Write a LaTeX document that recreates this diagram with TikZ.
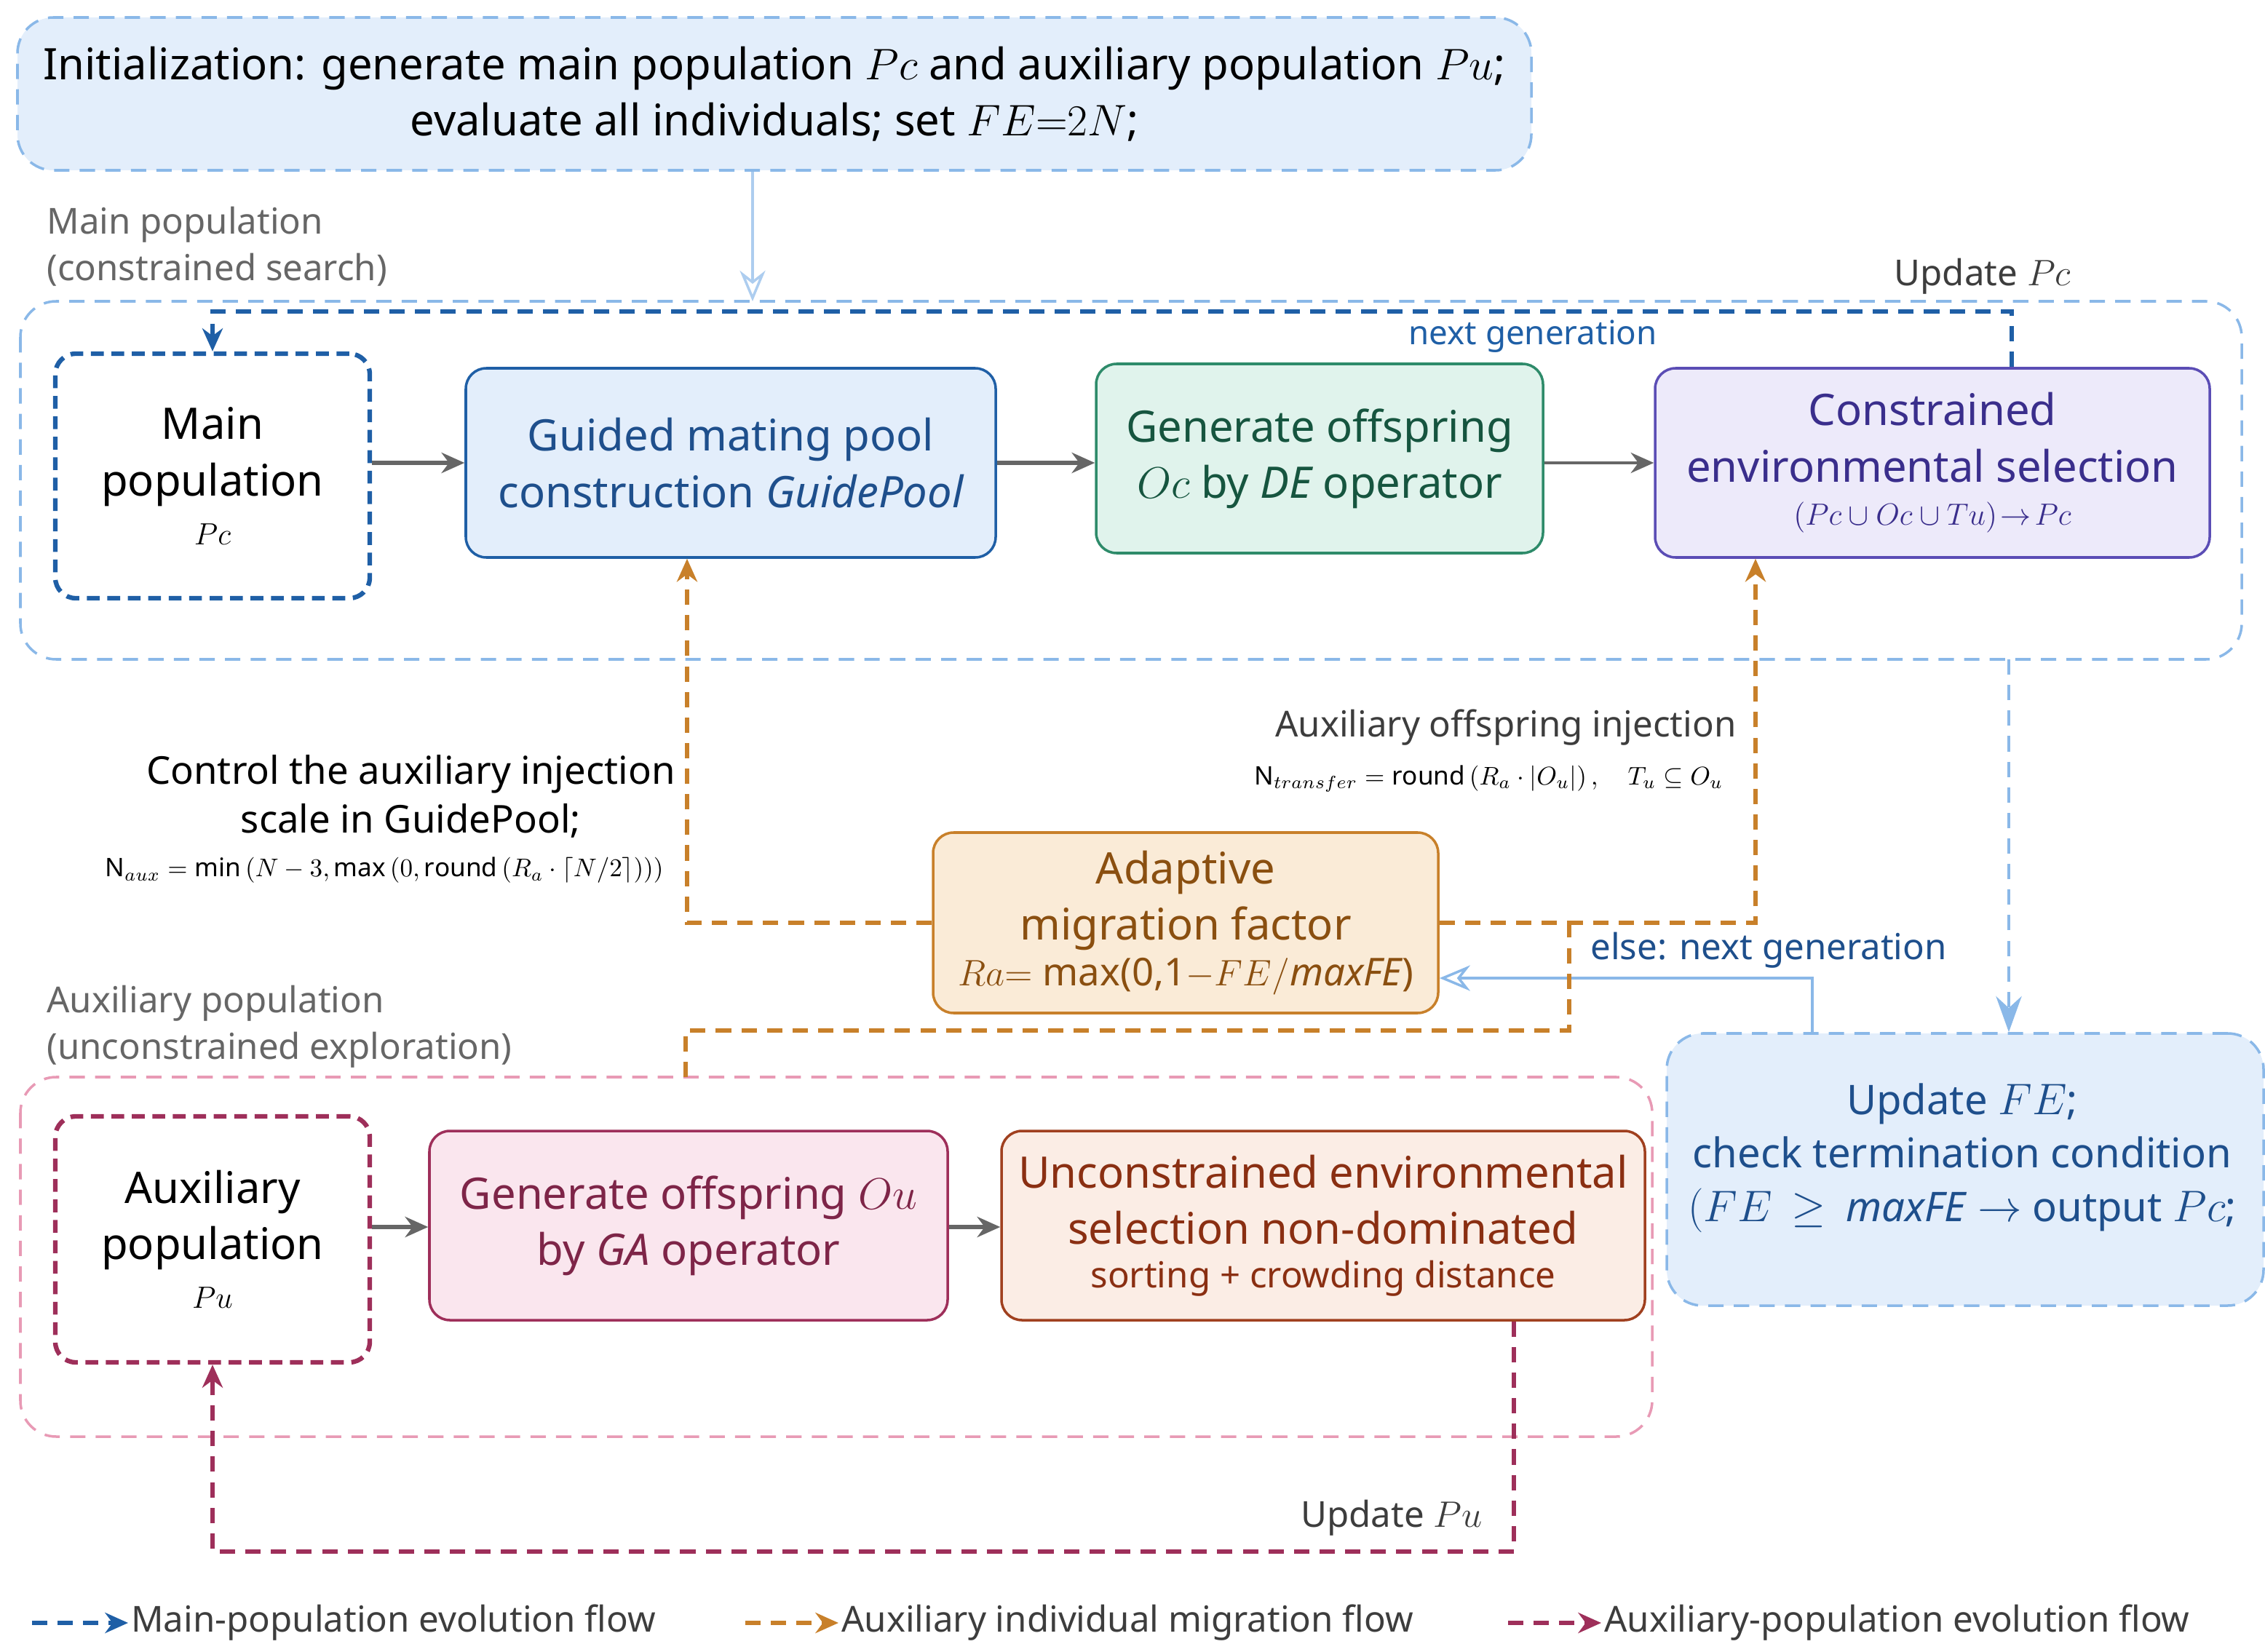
\documentclass[tikz,border=0pt]{standalone}
\usepackage{fontspec}
\setmainfont{Noto Sans}
\usepackage{amsmath}
\usetikzlibrary{positioning}
\usetikzlibrary{arrows.meta}
\definecolor{cBlueFill} {HTML}{E3EEFB}
\definecolor{cBlueLite} {HTML}{8AB8E8}
\definecolor{cBlueDark} {HTML}{1F5FA6}
\definecolor{cBlueText} {HTML}{1E4F8C}
\definecolor{cGreenFill}{HTML}{E0F3EC}
\definecolor{cGreen}    {HTML}{2E8B6A}
\definecolor{cGreenText}{HTML}{16553F}
\definecolor{cPurpFill} {HTML}{EDEAFA}
\definecolor{cPurp}     {HTML}{5B4DB5}
\definecolor{cPurpText} {HTML}{3A2E8C}
\definecolor{cOrgFill}  {HTML}{FAEBD7}
\definecolor{cOrg}      {HTML}{C8802A}
\definecolor{cOrgText}  {HTML}{8A4F10}
\definecolor{cPinkFill} {HTML}{FAE6EE}
\definecolor{cPink}     {HTML}{E89AB5}
\definecolor{cMaroon}   {HTML}{9E2F5A}
\definecolor{cRustFill} {HTML}{FBEDE5}
\definecolor{cRust}     {HTML}{A0401F}
\definecolor{cRustText} {HTML}{8A2F12}
\definecolor{cGray}     {HTML}{666666}

\begin{document}
\begin{tikzpicture}
[x=0.02cm, y=-0.02cm, >={Stealth[length=9pt,width=8pt]},
  box/.style = { draw, rounded corners=8pt, line width=1pt, align=center, inner sep=0pt },
  big/.style = { font=\fontsize{17}{22}\selectfont },
  region/.style = { draw, dashed, rounded corners=14pt, line width=1pt, dash pattern=on 6pt off 4pt },
  flow/.style = { dashed, line width=1.6pt, dash pattern=on 6pt off 4pt },
  stepArrow/.style = { ->, cGray, line width=1.6pt }
]
\useasboundingbox (0,0) rectangle (1556,1135);

% Initialization:
\node[box, region, fill=cBlueFill, draw=cBlueLite, minimum width=1040*0.02cm, minimum height=105*0.02cm, big]
  (init) at (532,64.5) {Initialization: generate main population $Pc$ and auxiliary population $Pu$;\\ evaluate all individuals; set $FE{=}2N$;};

% Regions:
\draw[region, cBlueLite] (14,207) rectangle (1540,453);
\draw[region, cPink]     (14,740) rectangle (1135,987);
\node[cGray, align=left, anchor=north west, font=\fontsize{14}{18}\selectfont] (mainlbl) at (26,136) {Main population\\(constrained search)};
\node[cGray, align=left, anchor=north west, font=\fontsize{14}{18}\selectfont] (auxlbl) at (26,671) {Auxiliary population\\(unconstrained exploration)};
\node[font=\fontsize{14}{18}\selectfont, cGray!60!black] (updpc) at (1362,190) {Update $Pc$};
\draw[->, cBlueLite!70, line width=1pt, >={Stealth[open,length=12pt,width=10pt]}] (init.south -| 517,0) -- (517,207);

% Main population row:
\node[box, dashed, dash pattern=on 5pt off 3pt, line width=1.8pt, draw=cBlueDark, minimum width=216*0.02cm, minimum height=168*0.02cm, big]
  (mainpop) at (146,327) {Main\\population\\[-3pt]{\fontsize{13}{14}\selectfont$Pc$}};
\node[box, fill=cBlueFill, draw=cBlueDark, text=cBlueText, minimum width=364*0.02cm, minimum height=130*0.02cm, big]
  (guide) at (502,318) {Guided mating pool\\construction $\mathit{GuidePool}$};
\node[box, fill=cGreenFill, draw=cGreen, text=cGreenText, minimum width=307*0.02cm, minimum height=130*0.02cm, big]
  (genoc) at (906.5,315) {Generate offspring\\$Oc$ by $\mathit{DE}$ operator};
\node[box, fill=cPurpFill, draw=cPurp, text=cPurpText, minimum width=381*0.02cm, minimum height=130*0.02cm, big]
  (conenv) at (1327.5,318) {Constrained\\environmental selection\\[-5pt]{\fontsize{13}{14}\selectfont$(Pc\cup Oc\cup Tu)\!\rightarrow\! Pc$}};
\draw[stepArrow] (mainpop.east |- 0,318) -- (guide.west);
\draw[stepArrow] (guide.east) -- (genoc.west |- guide.east);
\draw[->, cGray, line width=1pt] (genoc.east |- 0,318) -- (conenv.west);

% Next generation loop:
\draw[flow, cBlueDark, ->] (conenv.north -| 1382,0) -- (1382,214) -- (146,214) -- (mainpop.north);
\node[font=\fontsize{13}{15}\selectfont, cBlueDark] (nextgen) at (1053,231) {next generation};

% Termination:
\node[box, region, fill=cBlueFill, draw=cBlueLite, minimum width=410*0.02cm, minimum height=187*0.02cm] (term) at (1350,803.5) {};
\node[font=\fontsize{16}{21}\selectfont, text=cBlueText, align=center, anchor=north] (termtxt) at (1348,738) {Update $FE$;\\check termination condition\\$(FE\,\geq\,\mathit{maxFE}\rightarrow$ output $Pc$;};
\draw[flow, cBlueLite, ->, line width=1.4pt, >={Stealth[length=14pt,width=10pt]}] (1380,453) -- (term.north -| 1380,0);

% Adaptive migration factor:
\node[box, fill=cOrgFill, draw=cOrg, text=cOrgText, minimum width=347*0.02cm, minimum height=124*0.02cm, big]
  (adapt) at (814.5,634) {Adaptive\\migration factor\\[-4pt]{\fontsize{15}{16}\selectfont$Ra{=}$ max(0,1$-FE/\mathit{maxFE}$)}};
\coordinate (elseup) at (1245,672);
\draw[->, cBlueLite, line width=1pt, >={Stealth[open,length=12pt,width=10pt]}] (term.north -| elseup) -- (elseup) -- (adapt.east |- elseup);
\node[font=\fontsize{14}{18}\selectfont, cBlueText] (elselbl) at (1215,653) {else: next generation};

% Migration flows:
\draw[flow, cOrg, ->] (adapt.west) -- (472,634) -- (guide.south -| 472,0);
\draw[flow, cOrg, ->] (adapt.east) -- (1206,634) -- (conenv.south -| 1206,0);
\draw[flow, cOrg] (471,740) -- (471,708) -- (1078,708) -- (1078,634);
\node[font=\fontsize{15}{19}\selectfont, align=center, anchor=east] (ctrl) at (470,547) {Control the auxiliary injection\\scale in GuidePool;};
\node[font=\fontsize{10}{12}\selectfont, anchor=east] (naux) at (462,598) {$\mathrm{N}_{aux}=\min\left(N-3,\max\left(0,\mathrm{round}\left(R_a\cdot\lceil N/2\rceil\right)\right)\right)$};
\node[font=\fontsize{14}{18}\selectfont, cGray!60!black, anchor=east] (injlbl) at (1199,500) {Auxiliary offspring injection};
\node[font=\fontsize{10}{12}\selectfont, anchor=east] (ntr) at (1190,535) {$\mathrm{N}_{transfer}=\mathrm{round}\left(R_a\cdot|O_u|\right),\quad T_u\subseteq O_u$};

% Auxiliary population row:
\node[box, dashed, dash pattern=on 5pt off 3pt, line width=1.8pt, draw=cMaroon, minimum width=216*0.02cm, minimum height=169*0.02cm, big]
  (auxpop) at (146,851.5) {Auxiliary\\population\\[-3pt]{\fontsize{13}{14}\selectfont$Pu$}};
\node[box, fill=cPinkFill, draw=cMaroon, text=cMaroon!80!black, minimum width=356*0.02cm, minimum height=130*0.02cm, big]
  (genou) at (473,842) {Generate offspring $Ou$\\by $\mathit{GA}$ operator};
\node[box, fill=cRustFill, draw=cRust, text=cRustText, minimum width=442*0.02cm, minimum height=130*0.02cm, big]
  (unenv) at (909,842) {Unconstrained environmental\\selection non-dominated\\[-5pt]{\fontsize{14}{15}\selectfont sorting + crowding distance}};
\draw[stepArrow] (auxpop.east |- 0,843) -- (genou.west |- 0,843);
\draw[stepArrow] (genou.east |- 0,843) -- (unenv.west |- 0,843);

% Update Pu loop:
\draw[flow, cMaroon, ->] (unenv.south -| 1040,0) -- (1040,1066) -- (146,1066) -- (auxpop.south);
\node[font=\fontsize{14}{18}\selectfont, cGray!60!black] (updpu) at (956,1043) {Update $Pu$};

% Legend:
\coordinate (lg1a) at (22,1115);  \coordinate (lg1b) at (88,1115);
\coordinate (lg2a) at (512,1115); \coordinate (lg2b) at (576,1115);
\coordinate (lg3a) at (1036,1115);\coordinate (lg3b) at (1100,1115);
\draw[flow, cBlueDark, ->] (lg1a) -- (lg1b);
\draw[flow, cOrg, ->] (lg2a) -- (lg2b);
\draw[flow, cMaroon, ->] (lg3a) -- (lg3b);
\node[font=\fontsize{14}{18}\selectfont, cGray!60!black, anchor=west, inner sep=1pt] (lg1) at (lg1b) {Main-population evolution flow};
\node[font=\fontsize{14}{18}\selectfont, cGray!60!black, anchor=west, inner sep=1pt] (lg2) at (lg2b) {Auxiliary individual migration flow};
\node[font=\fontsize{14}{18}\selectfont, cGray!60!black, anchor=west, inner sep=1pt] (lg3) at (lg3b) {Auxiliary-population evolution flow};
\end{tikzpicture}
\end{document}
